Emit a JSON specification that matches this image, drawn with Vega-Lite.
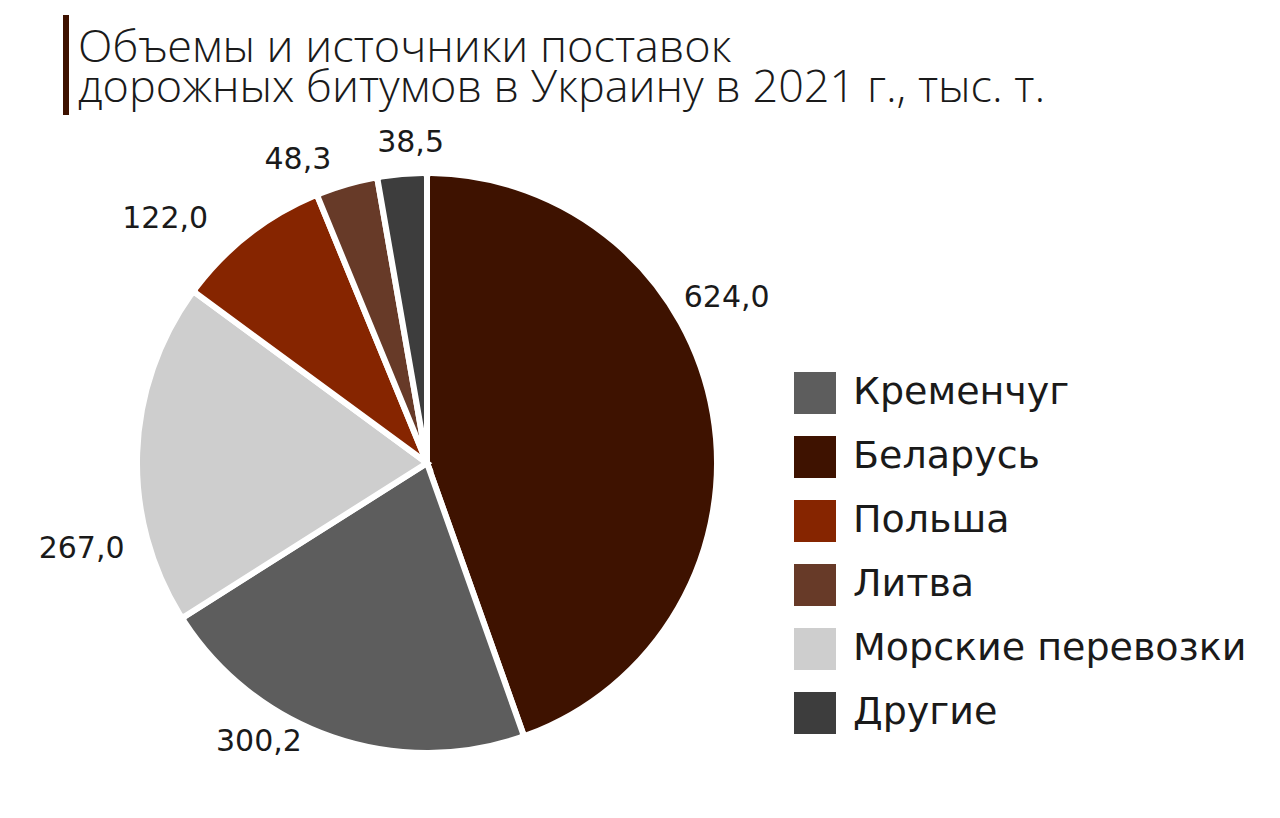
{
  "$schema": "https://vega.github.io/schema/vega-lite/v6.json",
  "autosize": {"type": "pad"},
  "padding": {"left": 38, "top": 15, "right": 0, "bottom": 0},
  "background": "white",
  "config": {"view": {"stroke": null}, "font": "DejaVu Sans"},
  "spacing": 0,
  "align": "none",
  "vconcat": [
    {
      "width": 6,
      "height": 100,
      "data": {"values": [{"bar": 1}]},
      "layer": [
        {"mark": {"type": "rect", "color": "#3e1200"}},
        {
          "mark": {
            "type": "text",
            "text": ["Объемы и источники поставок", "дорожных битумов в Украину в 2021 г., тыс. т."],
            "align": "left",
            "baseline": "middle",
            "dx": 12,
            "dy": -17,
            "fontSize": 45,
            "fontWeight": 300,
            "lineHeight": 40,
            "color": "#1a1a1a",
            "font": "Open Sans"
          }
        }
      ]
    },
    {
      "width": 728,
      "height": 692,
      "data": {
        "values": [
          {"source": "Беларусь", "value": 624.0, "label": "624,0", "n": 1},
          {"source": "Кременчуг", "value": 300.2, "label": "300,2", "n": 2},
          {"source": "Морские перевозки", "value": 267.0, "label": "267,0", "n": 3},
          {"source": "Польша", "value": 122.0, "label": "122,0", "n": 4},
          {"source": "Литва", "value": 48.3, "label": "48,3", "n": 5},
          {"source": "Другие", "value": 38.5, "label": "38,5", "n": 6}
        ]
      },
      "encoding": {
        "theta": {"field": "value", "type": "quantitative", "stack": true},
        "order": {"field": "n", "type": "quantitative"}
      },
      "layer": [
        {
          "mark": {"type": "arc", "outerRadius": 290, "stroke": "white", "strokeWidth": 6, "cornerRadius": 4},
          "encoding": {
            "color": {
              "field": "source",
              "type": "nominal",
              "scale": {
                "domain": ["Кременчуг", "Беларусь", "Польша", "Литва", "Морские перевозки", "Другие"],
                "range": ["#5d5d5d", "#3e1200", "#862500", "#673a28", "#cecece", "#3d3d3d"]
              },
              "legend": {
                "title": null,
                "orient": "none",
                "legendX": 731,
                "legendY": 357,
                "symbolType": "square",
                "symbolSize": 1764,
                "symbolStrokeWidth": 0,
                "rowPadding": 22,
                "labelOffset": 17,
                "labelFontSize": 38,
                "labelFont": "DejaVu Sans",
                "labelColor": "#1a1a1a",
                "labelLimit": 600,
                "padding": 0
              }
            }
          }
        },
        {
          "mark": {"type": "text", "radius": 342, "thetaOffset": -0.332, "font": "DejaVu Sans", "color": "#1a1a1a", "align": "center", "baseline": "middle"},
          "encoding": {
            "text": {"condition": {"test": "datum.source === 'Беларусь'", "field": "label"}, "value": ""},
            "size": {"condition": {"test": "datum.source === 'Беларусь'", "value": 30}, "value": 0}
          }
        },
        {
          "mark": {"type": "text", "radius": 326, "thetaOffset": 0.209, "font": "DejaVu Sans", "color": "#1a1a1a", "align": "center", "baseline": "middle"},
          "encoding": {
            "text": {"condition": {"test": "datum.source === 'Кременчуг'", "field": "label"}, "value": ""},
            "size": {"condition": {"test": "datum.source === 'Кременчуг'", "value": 30}, "value": 0}
          }
        },
        {
          "mark": {"type": "text", "radius": 356, "thetaOffset": -0.279, "font": "DejaVu Sans", "color": "#1a1a1a", "align": "center", "baseline": "middle"},
          "encoding": {
            "text": {"condition": {"test": "datum.source === 'Морские перевозки'", "field": "label"}, "value": ""},
            "size": {"condition": {"test": "datum.source === 'Морские перевозки'", "value": 30}, "value": 0}
          }
        },
        {
          "mark": {"type": "text", "radius": 358, "thetaOffset": -0.157, "font": "DejaVu Sans", "color": "#1a1a1a", "align": "center", "baseline": "middle"},
          "encoding": {
            "text": {"condition": {"test": "datum.source === 'Польша'", "field": "label"}, "value": ""},
            "size": {"condition": {"test": "datum.source === 'Польша'", "value": 30}, "value": 0}
          }
        },
        {
          "mark": {"type": "text", "radius": 329, "thetaOffset": -0.122, "font": "DejaVu Sans", "color": "#1a1a1a", "align": "center", "baseline": "middle"},
          "encoding": {
            "text": {"condition": {"test": "datum.source === 'Литва'", "field": "label"}, "value": ""},
            "size": {"condition": {"test": "datum.source === 'Литва'", "value": 30}, "value": 0}
          }
        },
        {
          "mark": {"type": "text", "radius": 320, "thetaOffset": 0.035, "font": "DejaVu Sans", "color": "#1a1a1a", "align": "center", "baseline": "middle"},
          "encoding": {
            "text": {"condition": {"test": "datum.source === 'Другие'", "field": "label"}, "value": ""},
            "size": {"condition": {"test": "datum.source === 'Другие'", "value": 30}, "value": 0}
          }
        }
      ]
    }
  ]
}
